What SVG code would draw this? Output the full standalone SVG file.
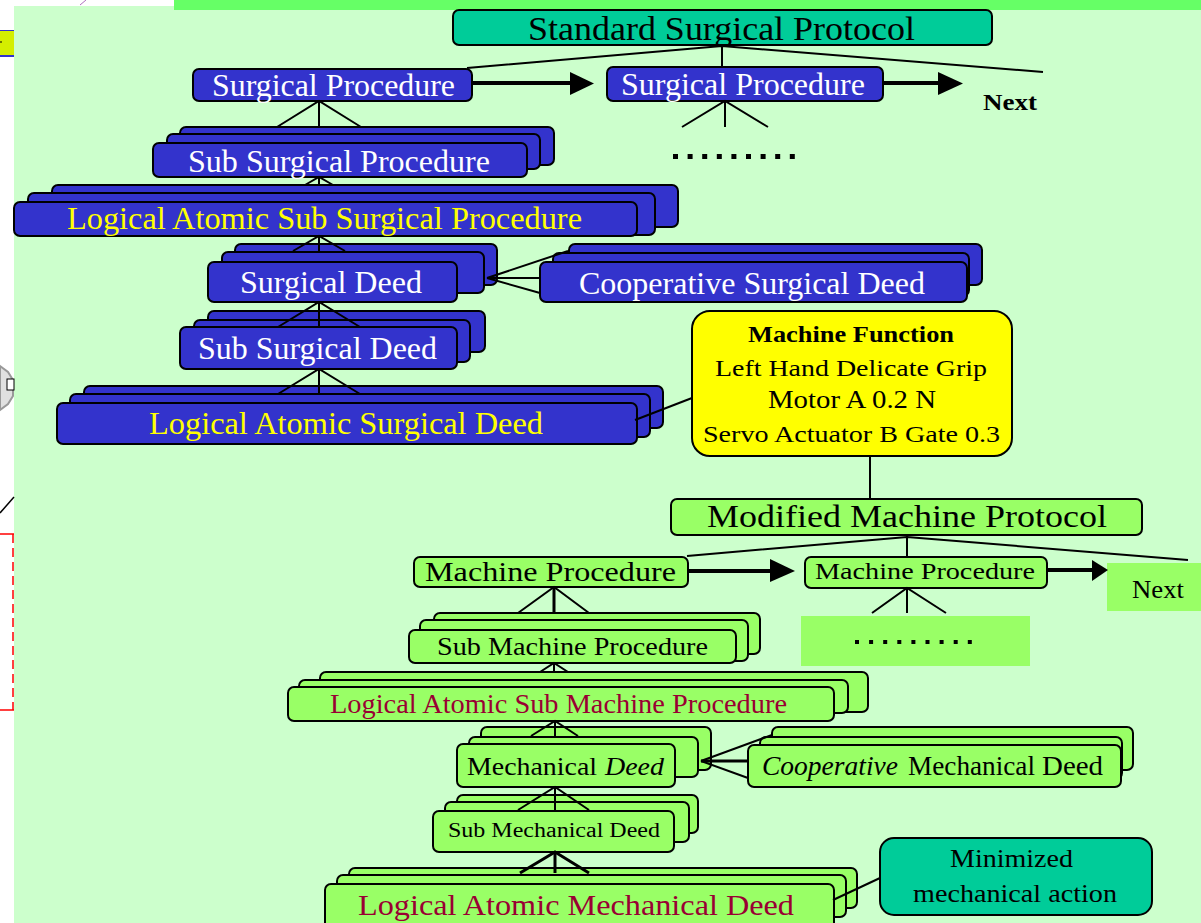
<svg xmlns="http://www.w3.org/2000/svg" width="1201" height="923" viewBox="0 0 1201 923">
  <defs>
    <style>
      .t { font-family: "Liberation Serif", "Times New Roman", serif; }
      .blue { fill: #3333CC; stroke: #000; stroke-width: 2; }
      .lg { fill: #99FF66; stroke: #000; stroke-width: 2; }
      .teal { fill: #00CC99; stroke: #000; stroke-width: 2; }
      .yel { fill: #FFFF00; stroke: #000; stroke-width: 2; }
      .wt { fill: #FFFFFF; }
      .yt { fill: #FFFF00; }
      .rt { fill: #990033; }
      .bt { fill: #000000; }
      .ln { stroke: #000; stroke-width: 2; fill: none; }
      .lnb { stroke: #000; stroke-width: 3; fill: none; }
      .arr { stroke: #000; stroke-width: 4; fill: none; }
      .head { fill: #000; }
      .dot { fill: #000; }
    </style>
  </defs>

  <!-- page margins and background -->
  <rect x="0" y="0" width="1201" height="923" fill="#FFFFFF"/>
  <rect x="14" y="6" width="1187" height="917" fill="#CCFFCC"/>
  <rect x="174" y="0" width="1027" height="10" fill="#66FF66"/>

  <!-- slivers of neighbouring content at the left edge -->
  <g id="edge">
    <line x1="80" y1="5" x2="86" y2="0" stroke="#B070C0" stroke-width="1"/>
    <rect x="0" y="30" width="14" height="26" fill="#D4EE00"/>
    <line x1="0" y1="30.5" x2="14" y2="30.5" stroke="#3333CC" stroke-width="1"/>
    <line x1="0" y1="56" x2="14" y2="56" stroke="#3333CC" stroke-width="2"/>
    <line x1="0" y1="42" x2="2" y2="42" stroke="#000" stroke-width="1"/>
    <polygon points="0,366 8,372 13,380 13,396 8,404 0,410" fill="#E0E0E0" stroke="#999" stroke-width="2"/>
    <rect x="7" y="379" width="7" height="11" fill="#FFF" stroke="#000" stroke-width="1"/>
    <line x1="0" y1="513" x2="14" y2="497" stroke="#000" stroke-width="1.5"/>
    <line x1="0" y1="534" x2="14" y2="534" stroke="#FF0000" stroke-width="1.5"/>
    <line x1="13" y1="534" x2="13" y2="710" stroke="#FF0000" stroke-width="1.5" stroke-dasharray="9,5"/>
    <line x1="0" y1="710" x2="14" y2="710" stroke="#FF0000" stroke-width="1.5"/>
  </g>

  <!-- surgical side -->
  <g id="standard-surgical-protocol">
    <rect class="teal" x="453" y="10" width="539" height="35" rx="6"/>
    <text class="t bt" x="528" y="40" font-size="34" textLength="387" lengthAdjust="spacingAndGlyphs">Standard Surgical Protocol</text>
  </g>

  <g id="surgical-procedure-1">
    <rect class="blue" x="193" y="69" width="279" height="32" rx="6"/>
    <text class="t wt" x="212" y="96" font-size="31" textLength="243" lengthAdjust="spacingAndGlyphs">Surgical Procedure</text>
  </g>

  <g id="surgical-procedure-2">
    <rect class="blue" x="607" y="67" width="276" height="34" rx="6"/>
    <text class="t wt" x="621" y="95" font-size="31" textLength="244" lengthAdjust="spacingAndGlyphs">Surgical Procedure</text>
  </g>

  <g id="next-surgical">
    <text class="t bt" x="983" y="110" font-size="24" font-weight="bold" textLength="54" lengthAdjust="spacingAndGlyphs">Next</text>
  </g>

  <g id="more-surgical">
    <rect class="dot" x="673" y="154" width="5" height="5"/>
    <rect class="dot" x="687.6" y="154" width="5" height="5"/>
    <rect class="dot" x="702.2" y="154" width="5" height="5"/>
    <rect class="dot" x="716.8" y="154" width="5" height="5"/>
    <rect class="dot" x="731.4" y="154" width="5" height="5"/>
    <rect class="dot" x="746" y="154" width="5" height="5"/>
    <rect class="dot" x="760.6" y="154" width="5" height="5"/>
    <rect class="dot" x="775.2" y="154" width="5" height="5"/>
    <rect class="dot" x="789.8" y="154" width="5" height="5"/>
  </g>

  <g id="sub-surgical-procedure">
    <rect class="blue" x="180" y="127" width="374" height="38" rx="6"/>
    <rect class="blue" x="167" y="134" width="373" height="35" rx="6"/>
    <rect class="blue" x="153" y="143" width="374" height="34" rx="6"/>
    <text class="t wt" x="188" y="172" font-size="31" textLength="302" lengthAdjust="spacingAndGlyphs">Sub Surgical Procedure</text>
  </g>

  <g id="logical-atomic-sub-surgical-procedure">
    <rect class="blue" x="52" y="185" width="626" height="42" rx="6"/>
    <rect class="blue" x="28" y="193" width="627" height="42" rx="6"/>
    <rect class="blue" x="14" y="202" width="623" height="34" rx="6"/>
    <text class="t yt" x="67" y="229" font-size="31" textLength="515" lengthAdjust="spacingAndGlyphs">Logical Atomic Sub Surgical Procedure</text>
  </g>

  <g id="surgical-deed">
    <rect class="blue" x="235" y="244" width="262" height="41" rx="6"/>
    <rect class="blue" x="222" y="252" width="262" height="41" rx="6"/>
    <rect class="blue" x="208" y="262" width="249" height="40" rx="6"/>
    <text class="t wt" x="240" y="293" font-size="31" textLength="182" lengthAdjust="spacingAndGlyphs">Surgical Deed</text>
  </g>

  <g id="cooperative-surgical-deed">
    <rect class="blue" x="569" y="244" width="413" height="41" rx="6"/>
    <rect class="blue" x="553" y="253" width="416" height="43" rx="6"/>
    <rect class="blue" x="540" y="262" width="427" height="40" rx="6"/>
    <text class="t wt" x="579" y="294" font-size="31" textLength="346" lengthAdjust="spacingAndGlyphs">Cooperative Surgical Deed</text>
  </g>

  <g id="sub-surgical-deed">
    <rect class="blue" x="208" y="311" width="277" height="41" rx="6"/>
    <rect class="blue" x="194" y="320" width="276" height="42" rx="6"/>
    <rect class="blue" x="180" y="327" width="277" height="42" rx="6"/>
    <text class="t wt" x="198" y="359" font-size="31" textLength="239" lengthAdjust="spacingAndGlyphs">Sub Surgical Deed</text>
  </g>

  <g id="logical-atomic-surgical-deed">
    <rect class="blue" x="84" y="386" width="579" height="42" rx="6"/>
    <rect class="blue" x="70" y="394" width="580" height="43" rx="6"/>
    <rect class="blue" x="57" y="403" width="580" height="41" rx="6"/>
    <text class="t yt" x="149" y="434" font-size="31" textLength="394" lengthAdjust="spacingAndGlyphs">Logical Atomic Surgical Deed</text>
  </g>

  <g id="machine-function">
    <rect class="yel" x="692" y="311" width="320" height="145" rx="18"/>
    <text class="t bt" x="748" y="342" font-size="23" font-weight="bold" textLength="206" lengthAdjust="spacingAndGlyphs">Machine Function</text>
    <text class="t bt" x="715" y="376" font-size="24" textLength="272" lengthAdjust="spacingAndGlyphs">Left Hand Delicate Grip</text>
    <text class="t bt" x="768" y="408" font-size="25" textLength="168" lengthAdjust="spacingAndGlyphs">Motor A 0.2 N</text>
    <text class="t bt" x="703" y="442" font-size="24" textLength="297" lengthAdjust="spacingAndGlyphs">Servo Actuator B Gate 0.3</text>
  </g>

  <!-- machine side -->
  <g id="modified-machine-protocol">
    <rect class="lg" x="671" y="499" width="471" height="36" rx="6"/>
    <text class="t bt" x="707" y="527" font-size="32" textLength="400" lengthAdjust="spacingAndGlyphs">Modified Machine Protocol</text>
  </g>

  <g id="machine-procedure-1">
    <rect class="lg" x="414" y="557" width="274" height="30" rx="6"/>
    <text class="t bt" x="425" y="581" font-size="27" textLength="251" lengthAdjust="spacingAndGlyphs">Machine Procedure</text>
  </g>

  <g id="machine-procedure-2">
    <rect class="lg" x="805" y="557" width="242" height="31" rx="6"/>
    <text class="t bt" x="815" y="579" font-size="23" textLength="220" lengthAdjust="spacingAndGlyphs">Machine Procedure</text>
  </g>

  <g id="next-machine">
    <rect x="1107" y="563" width="94" height="48" fill="#99FF66"/>
    <text class="t bt" x="1132" y="598" font-size="25" textLength="52" lengthAdjust="spacingAndGlyphs">Next</text>
  </g>

  <g id="more-machine">
    <rect x="801" y="616" width="229" height="50" fill="#99FF66"/>
    <rect class="dot" x="855" y="640" width="4" height="4"/>
    <rect class="dot" x="869.1" y="640" width="4" height="4"/>
    <rect class="dot" x="883.2" y="640" width="4" height="4"/>
    <rect class="dot" x="897.3" y="640" width="4" height="4"/>
    <rect class="dot" x="911.4" y="640" width="4" height="4"/>
    <rect class="dot" x="925.5" y="640" width="4" height="4"/>
    <rect class="dot" x="939.6" y="640" width="4" height="4"/>
    <rect class="dot" x="953.7" y="640" width="4" height="4"/>
    <rect class="dot" x="967.8" y="640" width="4" height="4"/>
  </g>

  <g id="sub-machine-procedure">
    <rect class="lg" x="434" y="613" width="326" height="41" rx="6"/>
    <rect class="lg" x="420" y="620" width="328" height="41" rx="6"/>
    <rect class="lg" x="409" y="630" width="327" height="33" rx="6"/>
    <text class="t bt" x="437" y="655" font-size="25" textLength="271" lengthAdjust="spacingAndGlyphs">Sub Machine Procedure</text>
  </g>

  <g id="logical-atomic-sub-machine-procedure">
    <rect class="lg" x="320" y="672" width="548" height="40" rx="6"/>
    <rect class="lg" x="299" y="680" width="549" height="33" rx="6"/>
    <rect class="lg" x="288" y="687" width="546" height="34" rx="6"/>
    <text class="t rt" x="330" y="713" font-size="27" textLength="457" lengthAdjust="spacingAndGlyphs">Logical Atomic Sub Machine Procedure</text>
  </g>

  <g id="mechanical-deed">
    <rect class="lg" x="481" y="727" width="230" height="43" rx="6"/>
    <rect class="lg" x="469" y="737" width="229" height="40" rx="6"/>
    <rect class="lg" x="457" y="744" width="218" height="43" rx="6"/>
    <text class="t bt" x="467" y="775" font-size="26" textLength="130" lengthAdjust="spacingAndGlyphs">Mechanical</text>
    <text class="t bt" x="605" y="775" font-size="26" font-style="italic" textLength="59" lengthAdjust="spacingAndGlyphs">Deed</text>
  </g>

  <g id="cooperative-mechanical-deed">
    <rect class="lg" x="772" y="727" width="361" height="43" rx="6"/>
    <rect class="lg" x="760" y="737" width="362" height="42" rx="6"/>
    <rect class="lg" x="748" y="745" width="373" height="42" rx="6"/>
    <text class="t bt" x="762" y="775" font-size="27" font-style="italic" textLength="136" lengthAdjust="spacingAndGlyphs">Cooperative</text>
    <text class="t bt" x="908" y="775" font-size="27" textLength="127" lengthAdjust="spacingAndGlyphs">Mechanical</text>
    <text class="t bt" x="1042" y="775" font-size="27" textLength="61" lengthAdjust="spacingAndGlyphs">Deed</text>
  </g>

  <g id="sub-mechanical-deed">
    <rect class="lg" x="457" y="795" width="241" height="38" rx="6"/>
    <rect class="lg" x="445" y="802" width="244" height="40" rx="6"/>
    <rect class="lg" x="433" y="811" width="241" height="41" rx="6"/>
    <text class="t bt" x="448" y="837" font-size="20" textLength="212" lengthAdjust="spacingAndGlyphs">Sub Mechanical Deed</text>
  </g>

  <g id="logical-atomic-mechanical-deed">
    <rect class="lg" x="349" y="868" width="508" height="40" rx="6"/>
    <rect class="lg" x="337" y="875" width="509" height="42" rx="6"/>
    <rect class="lg" x="325" y="884" width="509" height="56" rx="6"/>
    <text class="t rt" x="358" y="915" font-size="30" textLength="436" lengthAdjust="spacingAndGlyphs">Logical Atomic Mechanical Deed</text>
  </g>

  <g id="minimized-mechanical-action">
    <rect class="teal" x="880" y="838" width="272" height="77" rx="14"/>
    <text class="t bt" x="950" y="867" font-size="25" textLength="123" lengthAdjust="spacingAndGlyphs">Minimized</text>
    <text class="t bt" x="913" y="902" font-size="25" textLength="204" lengthAdjust="spacingAndGlyphs">mechanical action</text>
  </g>

  <!-- connectors -->
  <g id="connectors">
    <!-- protocol trees -->
    <polyline class="ln" points="467,68 722,46 1043,72"/>
    <line class="ln" x1="722" y1="45" x2="722" y2="68"/>
    <polyline class="ln" points="687,556 907,537 1188,560"/>
    <line class="ln" x1="907" y1="535" x2="907" y2="557"/>
    <line class="ln" x1="870" y1="456" x2="870" y2="499"/>

    <!-- sequence arrows -->
    <line class="arr" x1="472" y1="83" x2="572" y2="83"/>
    <polygon class="head" points="570,72 594,83.5 570,95"/>
    <line class="arr" x1="883" y1="83" x2="940" y2="83"/>
    <polygon class="head" points="938,72 963,83.5 938,95"/>
    <line class="arr" x1="688" y1="571" x2="772" y2="571"/>
    <polygon class="head" points="770,559 795,571 770,582"/>
    <line class="arr" x1="1047" y1="570" x2="1094" y2="570"/>
    <polygon class="head" points="1092,560 1108,570 1092,581"/>

    <!-- decomposition forks -->
    <polyline class="ln" points="277,127 319,101 361,127"/><line class="ln" x1="319" y1="101" x2="319" y2="127"/>
    <polyline class="ln" points="305,185 319,177 333,185"/><line class="ln" x1="319" y1="177" x2="319" y2="185"/>
    <polyline class="ln" points="293,251 319,236 345,251"/><line class="ln" x1="319" y1="236" x2="319" y2="251"/>
    <polyline class="ln" points="278,327 319,302 360,327"/><line class="ln" x1="319" y1="302" x2="319" y2="327"/>
    <polyline class="ln" points="278,394 319,369 360,394"/><line class="ln" x1="319" y1="369" x2="319" y2="394"/>
    <polyline class="ln" points="682,127 725,101 768,127"/><line class="ln" x1="725" y1="101" x2="725" y2="127"/>
    <polyline class="ln" points="518,613 554,587 589,613"/><line class="lnb" x1="554" y1="587" x2="554" y2="613"/>
    <polyline class="ln" points="872,613 907,588 946,613"/><line class="ln" x1="907" y1="588" x2="907" y2="613"/>
    <polyline class="ln" points="540,672 554,663 568,672"/><line class="ln" x1="554" y1="663" x2="554" y2="672"/>
    <polyline class="ln" points="531,736 555,721 578,736" stroke-width="1"/><line class="ln" x1="555" y1="721" x2="555" y2="736"/>
    <polyline class="ln" points="518,810 555,787 589,810" stroke-width="1.5"/><line class="ln" x1="555" y1="787" x2="555" y2="810"/>
    <polyline class="lnb" points="520,873 555,852 589,873"/><line class="lnb" x1="555" y1="852" x2="555" y2="873"/>

    <!-- cooperation fans -->
    <line class="ln" x1="487" y1="278" x2="568" y2="251"/>
    <line class="ln" x1="487" y1="278" x2="540" y2="278"/>
    <line class="ln" x1="487" y1="278" x2="540" y2="293"/>
    <line class="ln" x1="701" y1="761" x2="772" y2="735"/>
    <line class="lnb" x1="701" y1="761" x2="748" y2="761"/>
    <line class="ln" x1="701" y1="761" x2="748" y2="778"/>

    <!-- annotation links -->
    <line class="ln" x1="635" y1="420" x2="692" y2="398"/>
    <line class="ln" x1="833" y1="900" x2="880" y2="878"/>
  </g>
</svg>
